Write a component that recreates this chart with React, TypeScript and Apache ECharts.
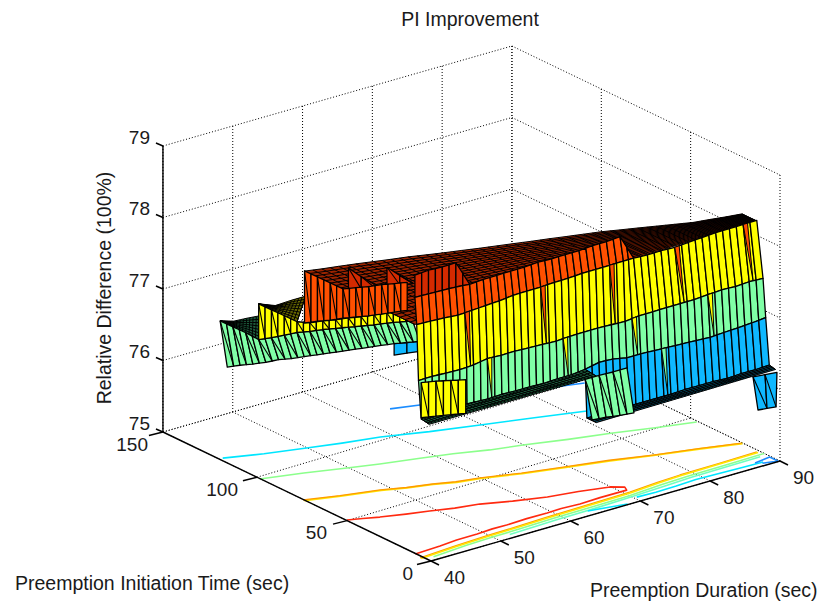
import React, { useEffect, useRef } from "react";
import * as echarts from "echarts";

// ---- tick labels
const xTicks = [40, 50, 60, 70, 80, 90];
const yTicks = [0, 50, 100, 150];
const yTicksAtLeftEdge = [0, 47, 97.4, 150];
const zTicks = [75, 76, 77, 78, 79];
const yLabelDx = [-18, -20, -19, -15];

// ---- front wall stations (Preemption Duration)
const mainX = [40,42,44,46,48,50,52,54,56,58,60,62,64,66,68,70,72,74,76,78,80,82,84,86,88,90];
const topY = [9,9.2,9.3,9.5,9.6,9.8,10,10.1,10.3,10.4,10.6,10.8,10.9,11.1,11.2,11.4,11.6,11.7,11.9,12,12.2,12.4,12.5,12.7,12.8,13];
const topZ = [78.58,78.57,78.56,78.55,78.53,78.54,78.54,78.54,78.54,78.55,78.54,78.54,78.54,78.55,78.55,78.56,78.20,78.19,78.19,78.18,78.19,78.20,78.21,78.21,78.21,78.21];
const yellowTopY = [8,8.1,8.2,8.3,8.4,8.5,8.6,8.7,8.8,8.9,9,9.1,9.2,9.3,9.4,9.5,11.6,11.7,11.9,12,12.2,12.4,12.5,12.7,12.8,13];
const yellowTopZ = [78.21,78.20,78.19,78.17,78.18,78.19,78.20,78.22,78.22,78.22,78.23,78.23,78.24,78.24,78.24,78.24,78.20,78.19,78.19,78.18,78.19,78.20,78.21,78.21,78.21,78.21];
const greenTopY = [7,7.1,7.2,7.3,7.4,7.5,7.6,7.7,7.8,7.9,8,8.1,8.2,8.3,8.4,8.5,8.6,8.7,8.8,8.9,9,9.1,9.2,9.3,9.4,9.5];
const greenTopZ = [77.44,77.44,77.43,77.42,77.43,77.46,77.45,77.45,77.44,77.43,77.42,77.43,77.43,77.43,77.42,77.41,77.43,77.43,77.43,77.43,77.43,77.44,77.45,77.44,77.45,77.44];
const blueTopY = [5.5,7,7.1,7.1,7.2,7.2,7.2,7.3,7.3,7.4,7.4,7.4,7.5,7.5,7.6,7.6,7.6,7.7,7.7,7.8,7.8,7.8,7.9,7.9,8,8];
const blueTopZ = [76.92,76.91,76.91,76.92,76.91,76.90,76.91,76.90,76.90,76.89,76.90,76.90,76.92,76.96,76.95,76.91,76.91,76.90,76.89,76.88,76.87,76.86,76.87,76.88,76.89,76.91];
const blueBottomY = [6.5,6.5,6.4,6.4,6.4,6.4,6.3,6.3,6.2,6.2,6.1,6.1,6,6,];
const blueBottomZ = [76.25,76.25,76.25,76.25,76.25,76.25,76.25,76.26,76.26,76.26,76.25,76.26,76.26,76.27];
const stripFrontY = [1,1,1,1,1,1,1,1,1,1,1,1,1.2,1.3,1.4,1.5,1.6,1.7,1.8,1.9,2,2.1,2.2,2.3,2.4,2.5];
const meshBackY = [71,69,67.3,65.5,63.5,61.5,59.7,57.4,55.2,53.2,51.1,49.2,47.3,45.3,43.5,41.5,39.6,37.7,35.2,32.8,30.3,27.8,25.3,24,22.5,21.3];
const panelCZ = [78.89,78.90,78.89,78.89,78.53];
const redSliverK = [3.5,9,14,19,24];
const yellowSliverK = [5,10.5,15.5,21];
const greenSliverK = [17.5];

// ---- rear left terraces
const leftX = [40,41.5,43,44.5,46,47.5,49,50.5,52,53.5,55,56.5,58,59.5,61,62.5];
const leftTopY = [118,116.7,115.4,114,112.7,111.4,110.1,108.8,107.4,106.1,104.8,103.5,102.2,100.8,99.5,98.2];
const leftBotY = [114,112.7,111.4,110,108.7,107.4,106.1,104.8,103.4,102.1,100.8,99.5,98.2,96.8,95.5,94.2];
const leftGreenTopZ = [76.94,76.83,76.72,76.60,76.60,76.61,76.62,76.61,76.61,76.60,76.59,76.58,76.57,76.57,76.56,76.55];
const leftGreenBotZ = [76.34,76.34,76.33,76.33,76.34,76.33,76.33,76.33,76.33,76.33,76.33,76.33,76.33,76.33,76.32,76.31];
const leftYellowTopZ = [77.10,76.99,76.88,76.77,76.73,76.73,76.72,76.72,76.71,76.71,76.71,76.70,76.71];
const leftRedY = [111.8,110.4,109.1,107.8,106.5,105.2,103.8,102.5,101.2];
const leftRedTopZ = [77.42,77.31,77.20,77.09,77.08,77.07,77.07,77.06,77.05];
const leftRedBotZ = [76.69,76.69,76.68,76.68,76.67,76.66,76.66,76.66,76.66];
const panelAZ = [77.42,77.27,77.14];
const panelABotZ = [77.11,77.10,77.10];
const panelBZ = [77.35,77.21,77.08];
const panelBBotZ = [77.09,77.08,77.07];
const leftBlueBotZ = [76.17,76.17,76.17];
const greenMeshBackX = [40,41.7,43.4,45];
const greenMeshBackY = [118,117,116.4,115.5];
const greenMeshBackZ = [76.94,76.9,76.9,76.9];
const yellowMeshBackX = [44.5,47,49.5,51.5];
const yellowMeshBackY = [114,114.5,115,115];
const yellowMeshBackZ = [77.10,77,77,77];

// ---- front steps
const yellowStepX = [40,42,44,46];
const yellowStepTopZ = [77.43,77.40,77.36,77.32];
const yellowStepBotZ = [76.94,76.91,76.88,76.85];
const yellowStepY = [5.5,5,4.5,4];
const greenStepX = [64,66,68,70];
const greenStepTopY = [7.5,7.5,7.5,7.5];
const greenStepBotY = [3.6,3.6,3.6,3.6];
const greenStepTopZ = [76.78,76.78,76.77,76.77];
const greenStepBotZ = [76.26,76.24,76.21,76.19];
const blueStepX = [87,88.5,90];
const blueStepTopY = [3.4,2.5,1.7];
const blueStepBotY = [0.6,1.4,2.2];
const blueStepTopZ = [76.22,76.22,76.22];
const blueStepBotZ = [75.79,75.76,75.73];

// ---- floor contours
const redX = [40.1,41.8,43.6,46.5,49.2,52,55,58.5,62.4,66.2,69.9,71.2,70.8,67,64,61.5,59.4,56.5,53.5,51.5,49.2,46.2,43.6,39.9];
const redY = [47.4,45.2,42.7,39.4,36.7,33.6,31.3,26.6,22.4,19.8,16.6,13.4,10.8,10.9,10.4,11.1,10.8,10.9,10.4,10.6,10.1,9.9,9,8.4];
const orangeX = [39.9,44,48.7,51.5,54.5,57,59.9,64.5,69.4,74.8,79.7,85,89.9];
const orangeY = [71.2,66.6,62.4,58.7,55.8,52.6,50.3,45.2,40.9,36.2,30.9,26.1,21.1];
const yellowY = [70.5,66.1,61.8,58.2,55.4,52,49.8,44.7,40.3,35.6,30.4,25.6,20.6];
const greenX = [39.9,45,49.8,53.5,58,62,66,69.9,75,80,85,89.8];
const greenY = [95.5,90.7,85.3,81.4,77.4,73.6,68.7,65.3,60,55.6,50.3,45.8];
const cyanX = [40.5,45,49.9,54,58.6,64,69.8,76,82,88];
const cyanY = [118.5,113,108.3,104.5,101,94.6,88.9,82.8,76.8,71];
const blueX = [64.7,68.1,87];
const blueY = [119.4,116,97.6];
const orangeFrontX = [39.6,45,50,54,58.6,65,70.7,75,78.4,84,89.6];
const orangeFrontY = [4.5,5.9,6.8,7.1,7.8,8.2,8.7,10,10.7,11,11.4];
const yellowFrontY = [3.9,5.3,6.1,6.5,7,7.5,8,9.4,10,10.4,10.7];
const greenFrontX = [41,46,50,54,59,65,70,75,79,85,90];
const greenFrontY = [2.5,4,4.6,4.9,5.6,5.8,6.2,7.5,8.2,8.4,8.8];
const lightFrontX = [52,59,65,70,75,79,89];
const lightFrontY = [2.8,3.9,4.2,4.9,5.8,6.6,7.2];
const cyanFrontAX = [63.4,66,68.3];
const cyanFrontAY = [3.7,2,0.5];
const cyanFrontBX = [70.4,73,76,79,81.4,85,88.3];
const cyanFrontBY = [3.6,3.1,3.4,4.1,3.8,3.2,2.8];
const blueFrontX = [87.4,89.8,89.8,88];
const blueFrontY = [3.8,5,0.4,2];

const BLUE = "#0fb8ff", GREEN = "#80ffa6", YELLOW = "#ffff00", RED = "#ff5000", DARKRED = "#d42a00";
const FONT = '19.5px "Liberation Sans", Arial, sans-serif';
const TICKFONT = '19px "Liberation Sans", Arial, sans-serif';

type P3 = [number, number, number];
function project([x, y, z]: P3): [number, number] {
  return [431 + (x - 40) * 6.98 - y * 1.787, 561 - (x - 40) * 2 - y * 0.86 - (z - 75) * 71.5];
}
const zip = (xs: number[], ys: number[], zs: number[] | number): P3[] =>
  xs.map((x, i) => [x, ys[i], typeof zs === "number" ? zs : zs[i]] as P3);

type Mark =
  | { kind: "poly"; pts: P3[]; fill: string; diag?: boolean; lw?: number }
  | { kind: "line"; pts: P3[]; stroke: string; lw: number; dash?: number[] }
  | { kind: "tick"; at: P3; dx: number; dy: number }
  | { kind: "label"; at: P3; dx: number; dy: number; text: string; align: string }
  | { kind: "mesh"; front: P3[]; back: P3[]; fill: string; nx: number; ny: number };

const marks: Mark[] = [];
const line = (pts: P3[], stroke: string, lw: number, dash?: number[]) => marks.push({ kind: "line", pts, stroke, lw, dash });
const lerp3 = (a: P3, b: P3, t: number): P3 => [a[0] + (b[0] - a[0]) * t, a[1] + (b[1] - a[1]) * t, a[2] + (b[2] - a[2]) * t];

function wall(top: P3[], bot: P3[], fill: string, diag = false, sub = 1) {
  for (let i = 0; i + 1 < top.length; i++) {
    for (let s = 0; s < sub; s++) {
      marks.push({ kind: "poly", pts: [
        lerp3(top[i], top[i + 1], s / sub), lerp3(top[i], top[i + 1], (s + 1) / sub),
        lerp3(bot[i], bot[i + 1], (s + 1) / sub), lerp3(bot[i], bot[i + 1], s / sub),
      ], fill, diag: diag && s === 0 });
    }
  }
}
const at = (path: P3[], k: number): P3 => {
  const i = Math.min(Math.floor(k), path.length - 2);
  return lerp3(path[i], path[i + 1], k - i);
};

// grid
const DOT = [1, 2];
const GRIDC = "#000";
zTicks.forEach((z) => {
  line([[40, 150, z], [90, 150, z], [90, 0, z]], GRIDC, 1, DOT);
});
xTicks.forEach((x) => line([[x, 150, 75], [x, 150, 79]], GRIDC, 1, DOT));
yTicks.forEach((y) => line([[90, y, 75], [90, y, 79]], GRIDC, 1, DOT));
xTicks.forEach((x) => line([[x, 0, 75], [x, 150, 75]], GRIDC, 1, DOT));
yTicks.forEach((y, i) => line([[40, yTicksAtLeftEdge[i], 75], [90, y, 75]], GRIDC, 1, DOT));

// contours
const C = (xs: number[], ys: number[], c: string, w = 1.6) => line(zip(xs, ys, 75), c, w);
C(blueX, blueY, "#1a8cff");
C(cyanX, cyanY, "#00e6ff");
C(greenX, greenY, "#8cff8c");
C(orangeX, yellowY, "#ffe600", 1.8);
C(orangeX, orangeY, "#ff9a00", 1.3);
C(redX, redY, "#ff2a10");
C(orangeFrontX, orangeFrontY, "#ff9a00", 1.3);
C(orangeFrontX, yellowFrontY, "#ffe600", 1.6);
C(greenFrontX, greenFrontY, "#8cff8c");
C(lightFrontX, lightFrontY, "#70ffc0");
C(cyanFrontAX, cyanFrontAY, "#00e6ff");
C(cyanFrontBX, cyanFrontBY, "#00e6ff");
C(blueFrontX, blueFrontY, "#1a8cff");

// axes
line([[40, 150, 75], [40, 150, 79]], "#000", 1.4);
line([[40, 150, 75], [40, 0, 75]], "#000", 1.4);
line([[40, 0, 75], [90, 0, 75]], "#000", 1.4);
zTicks.forEach((z) => {
  marks.push({ kind: "tick", at: [40, 150, z], dx: -7, dy: -3 });
  marks.push({ kind: "label", at: [40, 150, z], dx: -13, dy: -9, text: String(z), align: "right" });
});
yTicks.forEach((y, i) => {
  marks.push({ kind: "tick", at: [40, yTicksAtLeftEdge[i], 75], dx: -14, dy: 3.5 });
  marks.push({ kind: "label", at: [40, yTicksAtLeftEdge[i], 75], dx: yLabelDx[i], dy: 12, text: String(y), align: "right" });
});
xTicks.forEach((x) => {
  marks.push({ kind: "tick", at: [x, 0, 75], dx: 8, dy: 4 });
  marks.push({ kind: "label", at: [x, 0, 75], dx: 23.5, dy: 16, text: String(x), align: "center" });
});

// surface, back to front
const lGreenTop = zip(leftX, leftTopY, leftGreenTopZ);
const lGreenBot = zip(leftX, leftBotY, leftGreenBotZ);
const lYellowTop = zip(leftX.slice(3), leftTopY.slice(3), leftYellowTopZ);
const lYellowBot = lGreenTop.slice(3);
const lRedTop = zip(leftX.slice(7), leftRedY, leftRedTopZ);
const lRedBot = zip(leftX.slice(7), leftRedY, leftRedBotZ);

wall(lGreenBot.slice(13), zip(leftX.slice(13), leftBotY.slice(13), leftBlueBotZ), BLUE);
marks.push({ kind: "mesh", front: lGreenTop.slice(0, 4), back: zip(greenMeshBackX, greenMeshBackY, greenMeshBackZ), fill: "#1c5c3c", nx: 4, ny: 7 });
wall(lGreenTop, lGreenBot, GREEN, true, 2);
marks.push({ kind: "mesh", front: lYellowTop.slice(0, 4), back: zip(yellowMeshBackX, yellowMeshBackY, yellowMeshBackZ), fill: "#6a6a00", nx: 4, ny: 8 });
wall(lYellowTop, lYellowBot, YELLOW, true, 2);

marks.push({ kind: "mesh", front: zip(mainX, topY, 78.2), back: zip(mainX, meshBackY, 78.2), fill: "#9c2400", nx: 2, ny: 22 });

wall(zip(leftX.slice(10, 13), leftTopY.slice(10, 13), panelAZ), zip(leftX.slice(10, 13), leftTopY.slice(10, 13), panelABotZ), DARKRED, true);
wall(zip(leftX.slice(13), leftTopY.slice(13), panelBZ), zip(leftX.slice(13), leftTopY.slice(13), panelBBotZ), DARKRED, true);
wall(lRedTop, lRedBot, RED, true, 2);

const tPath = zip(mainX, topY, topZ);
const yPath = zip(mainX, yellowTopY, yellowTopZ);
const gPath = zip(mainX, greenTopY, greenTopZ);
const bPath = zip(mainX, blueTopY, blueTopZ);
const bBot = zip(mainX.slice(12), blueBottomY, blueBottomZ);

wall(zip(mainX.slice(0, 5), topY.slice(0, 5), panelCZ), tPath.slice(0, 5), DARKRED, false, 2);
wall(tPath.slice(0, 17), yPath.slice(0, 17), RED, false, 2);
wall(yPath, gPath, YELLOW, false, 2);
wall(gPath, bPath, GREEN, false, 2);
wall(bPath.slice(12), bBot, BLUE, false, 2);

const sliver = (k: number, a: P3[], b: P3[], fill: string) =>
  marks.push({ kind: "poly", pts: [at(a, k), at(a, k + 0.32), at(b, k + 0.28)], fill, lw: 1 });
redSliverK.forEach((k) => sliver(k, yPath, gPath, RED));
yellowSliverK.forEach((k) => sliver(k, gPath, bPath, YELLOW));
greenSliverK.forEach((k) => sliver(k, bPath, zip(mainX, [...Array(12).fill(7), ...blueBottomY], [...Array(12).fill(76.25), ...blueBottomZ]), GREEN));

marks.push({ kind: "mesh", front: zip(mainX.slice(0, 13), stripFrontY.slice(0, 13), 76.9), back: bPath.slice(0, 13), fill: "#1c5c3c", nx: 4, ny: 4 });
marks.push({ kind: "mesh", front: zip(mainX.slice(12), stripFrontY.slice(12), 76.25), back: bBot, fill: "#05506a", nx: 4, ny: 4 });

wall(zip(yellowStepX, yellowStepY, yellowStepTopZ), zip(yellowStepX, yellowStepY, yellowStepBotZ), YELLOW, true, 2);
wall(zip(greenStepX, greenStepTopY, greenStepTopZ), zip(greenStepX, greenStepBotY, greenStepBotZ), GREEN, true, 2);
wall(zip(blueStepX, blueStepTopY, blueStepTopZ), zip(blueStepX, blueStepBotY, blueStepBotZ), BLUE, true);

const textItem = (text: string, x: number, y: number, rotation = 0, align = "center") => ({
  type: "text", x, y, rotation, silent: true,
  style: { text, font: FONT, fill: "#1a1a1a", align, verticalAlign: "middle" },
});

export default function App() {
  const ref = useRef<HTMLDivElement>(null);
  useEffect(() => {
    const chart = echarts.init(ref.current!, null, { renderer: "svg" });
    const renderItem = (params: any, api: any) => {
      const m = marks[params.dataIndex];
      const pr = (p: P3) => api.coord(project(p));
      if (m.kind === "line") {
        return { type: "polyline", silent: true, shape: { points: m.pts.map(pr) },
          style: { fill: null, stroke: m.stroke, lineWidth: m.lw, lineDash: m.dash, lineJoin: "round" } };
      }
      if (m.kind === "tick") {
        const [u, v] = project(m.at);
        return { type: "line", silent: true, shape: { x1: u, y1: v, x2: u + m.dx, y2: v + m.dy }, style: { stroke: "#000", lineWidth: 1.4 } };
      }
      if (m.kind === "label") {
        const [u, v] = project(m.at);
        return { type: "text", silent: true, x: u + m.dx, y: v + m.dy, style: { text: m.text, font: TICKFONT, fill: "#1a1a1a", align: m.align, verticalAlign: "middle" } };
      }
      if (m.kind === "poly") {
        const children: any[] = [{ type: "polygon", silent: true, shape: { points: m.pts.map(pr) },
          style: { fill: m.fill, stroke: "#000", lineWidth: m.lw ?? 1.3, lineJoin: "round" } }];
        if (m.diag) {
          children.push({ type: "line", silent: true, shape: { x1: pr(m.pts[0])[0], y1: pr(m.pts[0])[1], x2: pr(m.pts[2])[0], y2: pr(m.pts[2])[1] },
            style: { stroke: "#000", lineWidth: 1.1 } });
        }
        return { type: "group", children };
      }
      // mesh: filled outline plus row and column grid lines
      const fr: P3[] = [], bk: P3[] = [];
      for (let i = 0; i + 1 < m.front.length; i++) {
        for (let s = 0; s < m.nx; s++) {
          fr.push(lerp3(m.front[i], m.front[i + 1], s / m.nx));
          bk.push(lerp3(m.back[i], m.back[i + 1], s / m.nx));
        }
      }
      fr.push(m.front[m.front.length - 1]);
      bk.push(m.back[m.back.length - 1]);
      const children: any[] = [{ type: "polygon", silent: true, shape: { points: [...fr, ...bk.slice().reverse()].map(pr) },
        style: { fill: m.fill, stroke: "#000", lineWidth: 1 } }];
      const ls = { fill: null, stroke: "#000", lineWidth: 1 };
      fr.forEach((f, i) => children.push({ type: "line", silent: true, shape: { x1: pr(f)[0], y1: pr(f)[1], x2: pr(bk[i])[0], y2: pr(bk[i])[1] }, style: ls }));
      for (let r = 1; r < m.ny; r++) {
        children.push({ type: "polyline", silent: true, shape: { points: fr.map((f, i) => pr(lerp3(f, bk[i], r / m.ny))) }, style: ls });
      }
      return { type: "group", children };
    };
    chart.setOption({
      animation: false,
      grid: { left: 0, right: 0, top: 0, bottom: 0 },
      xAxis: { type: "value", min: 0, max: 821, show: false },
      yAxis: { type: "value", min: 0, max: 607, inverse: true, show: false },
      series: [{
        type: "custom", coordinateSystem: "cartesian2d", clip: false, silent: true,
        data: marks.map(() => [0, 0]), renderItem,
      }],
      graphic: [
        textItem("PI Improvement", 470, 19),
        textItem("Relative Difference (100%)", 104, 288, Math.PI / 2),
        textItem("Preemption Initiation Time (sec)", 15, 583, 0, "left"),
        textItem("Preemption Duration (sec)", 590, 590, 0, "left"),
      ],
    });
    return () => chart.dispose();
  }, []);
  return <div ref={ref} style={{ position: "absolute", left: 0, top: 0, width: 821, height: 607, background: "#fff" }} />;
}
